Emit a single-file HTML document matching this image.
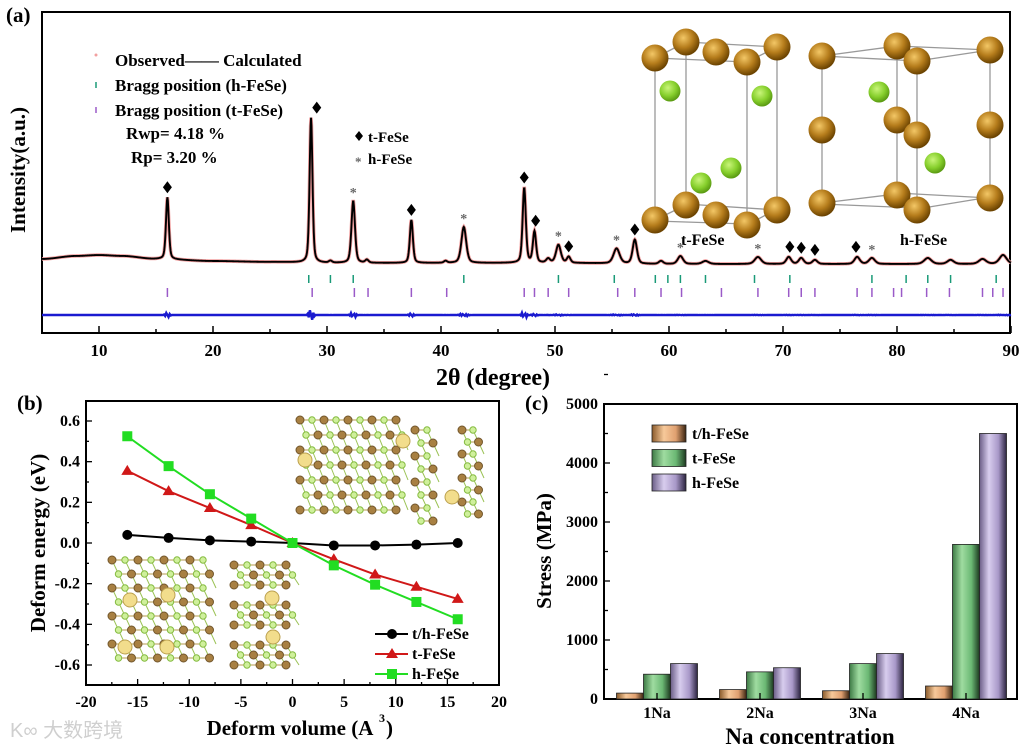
<!DOCTYPE html>
<html><head><meta charset="utf-8"><style>
html,body{margin:0;padding:0;background:#fff;}
svg{display:block;font-family:"Liberation Serif",serif;font-weight:bold;}
</style></head><body>
<svg id="fig" width="1024" height="748" viewBox="0 0 1024 748" xmlns="http://www.w3.org/2000/svg">
<defs>
<radialGradient id="fe" cx="40%" cy="35%" r="65%"><stop offset="0" stop-color="#f3c766"/><stop offset="0.55" stop-color="#b67d1c"/><stop offset="1" stop-color="#6a4200"/></radialGradient>
<radialGradient id="se" cx="40%" cy="35%" r="65%"><stop offset="0" stop-color="#c9f57a"/><stop offset="0.6" stop-color="#86cf2c"/><stop offset="1" stop-color="#5a9a12"/></radialGradient>
<linearGradient id="gO" x1="0" x2="1"><stop offset="0" stop-color="#8a5a2a"/><stop offset="0.35" stop-color="#f7c99a"/><stop offset="0.7" stop-color="#e0a070"/><stop offset="1" stop-color="#3a2410"/></linearGradient>
<linearGradient id="gG" x1="0" x2="1"><stop offset="0" stop-color="#3d7a45"/><stop offset="0.35" stop-color="#9fdca0"/><stop offset="0.7" stop-color="#6bb874"/><stop offset="1" stop-color="#1d3a20"/></linearGradient>
<linearGradient id="gP" x1="0" x2="1"><stop offset="0" stop-color="#6a5d86"/><stop offset="0.35" stop-color="#d8cdee"/><stop offset="0.7" stop-color="#a898c8"/><stop offset="1" stop-color="#2c2440"/></linearGradient>
</defs>
<g id="pa"></g>
<g id="pb"></g>
<g id="pc"></g>
<text x="10" y="737" font-family="'Liberation Sans','Noto Sans CJK SC',sans-serif" font-size="20" fill="#cfcfcf" font-weight="normal">K∞ 大数跨境</text>
</svg>
<script>
// ---------- Panel (a) data ----------
const peakPos = [16.0,28.6,30.3,32.3,33.5,37.4,40.4,42.0,47.3,48.2,49.4,50.3,51.2,55.4,57.0,59.3,61.0,63.2,67.8,70.5,71.6,72.8,76.5,77.8,82.7,84.7,87.5,89.3];
const peakInt = [413,967,13,413,20,287,13,240,500,207,27,120,40,100,160,20,53,20,47,47,40,27,47,40,40,27,33,60];
const peakWid = [0.18,0.18,0.2,0.22,0.2,0.19,0.2,0.3,0.2,0.2,0.24,0.3,0.22,0.38,0.27,0.27,0.33,0.4,0.4,0.3,0.3,0.3,0.33,0.37,0.45,0.4,0.45,0.45];
const bgX = [5,8,10,12,15,20,25,30,40,50,60,70,80,90];
const bgI = [107,127,133,127,107,93,87,80,80,80,73,73,73,73];
const hBragg = [28.4,30.3,32.3,42.0,50.3,55.2,58.8,59.9,61.0,63.2,67.5,70.6,77.8,80.8,82.7,84.7,88.7];
const tBragg = [16.0,28.7,32.4,33.6,37.4,40.5,47.3,48.2,49.4,51.2,55.5,57.0,59.3,61.1,64.6,67.8,70.5,71.6,72.8,76.5,77.8,79.7,80.4,82.6,84.6,87.5,88.4,89.3];
const tMark = [16.0,29.1,37.4,47.3,48.3,51.2,57.0,70.6,71.6,72.8,76.4];
const hMark = [32.3,42.0,50.3,55.4,61.0,67.8,77.8];
const xTicksA = [10,20,30,40,50,60,70,80,90];

// ---------- Panel (b) data ----------
const volX = [-16,-12,-8,-4,0,4,8,12,16];
const eTH = [0.04,0.025,0.013,0.007,0,-0.012,-0.012,-0.008,0.0];
const eT = [0.355,0.255,0.172,0.088,0,-0.08,-0.155,-0.215,-0.275];
const eH = [0.525,0.378,0.24,0.12,0,-0.11,-0.205,-0.29,-0.375];
const xTicksB = [-20,-15,-10,-5,0,5,10,15,20];
const yTicksB = [0.6,0.4,0.2,0.0,-0.2,-0.4,-0.6];
const yTickLabelsB = ["0.6","0.4","0.2","0.0","-0.2","-0.4","-0.6"];

// ---------- Panel (c) data ----------
const naCats = ["1Na","2Na","3Na","4Na"];
const sTH = [100,160,140,220];
const sT = [420,460,600,2620];
const sH = [600,530,770,4500];
const yTicksC = [0,1000,2000,3000,4000,5000];

const NS = "http://www.w3.org/2000/svg";
function mk(parent, tag, attrs, text){
  const e = document.createElementNS(NS, tag);
  for (const k in attrs) e.setAttribute(k, attrs[k]);
  if (text !== undefined) e.textContent = text;
  parent.appendChild(e);
  return e;
}

// ================= Panel A =================
(function(){
  const g = document.getElementById('pa');
  const X = v => 42 + (v - 5) * 11.4;
  const Y = I => 275 - I * 0.15;
  const bg = x => { for (let i=0;i<bgX.length-1;i++){ if (x<=bgX[i+1]) { const t=(x-bgX[i])/(bgX[i+1]-bgX[i]); const s=t*t*(3-2*t); return bgI[i]+(bgI[i+1]-bgI[i])*s; } } return bgI[bgI.length-1]; };
  const prof = x => { let s = bg(x); for (let i=0;i<peakPos.length;i++){ const d=(x-peakPos[i])/peakWid[i]; s += peakInt[i]*(0.6*Math.exp(-d*d)+0.4/(1+d*d*1.5)); } return s; };
  const nearTop = v => { let best=0, bd=1e9; peakPos.forEach((p,i)=>{ if (Math.abs(p-v)<bd){bd=Math.abs(p-v);best=i;} }); return bd<0.8 ? prof(peakPos[best]) : prof(v); };
  const fr = mk(g,'rect',{x:42,y:12,width:968,height:321,fill:'none',stroke:'#000','stroke-width':2});
   
  const cr = mk(g,'g',{});
   
  const L = (a,b,c,d)=>mk(cr,'line',{x1:a,y1:b,x2:c,y2:d,stroke:'#999','stroke-width':1.3});
  [[655,58,686,42],[686,42,777,47],[777,47,747,62],[747,62,655,58]].forEach(p=>{L(p[0],p[1],p[2],p[3]);L(p[0],p[1]+162,p[2],p[3]+163);});
  [[655,58],[686,42],[777,47],[747,62]].forEach(p=>L(p[0],p[1],p[0],p[1]+162));
  [[822,56,897,46],[897,46,990,50],[990,50,917,61],[917,61,822,56]].forEach(p=>{L(p[0],p[1],p[2],p[3]);L(p[0],p[1]+147,p[2],p[3]+148);});
  [[822,56],[897,46],[990,50],[917,61]].forEach(p=>L(p[0],p[1],p[0],p[1]+148));
  const fe=[[686,42],[777,47],[655,58],[716,52],[747,62],[686,205],[777,210],[655,220],[716,215],[747,225],
            [897,46],[990,50],[822,56],[917,61],[897,120],[990,125],[822,130],[917,135],[897,195],[990,198],[822,203],[917,210]];
  fe.forEach(p=>mk(cr,'circle',{cx:p[0],cy:p[1],r:13.5,fill:'url(#fe)'}));
  [[670,91],[762,96],[731,168],[701,183],[879,92],[935,163]].forEach(p=>mk(cr,'circle',{cx:p[0],cy:p[1],r:10.5,fill:'url(#se)'}));
  mk(cr,'text',{x:681,y:245,'font-size':16},'t-FeSe');
  mk(cr,'text',{x:900,y:245,'font-size':16},'h-FeSe');
  let pts=[]; for (let x=5;x<=90.001;x+=0.04) pts.push(X(x).toFixed(2)+','+Y(prof(x)).toFixed(2));
  const obs = mk(g,'polyline',{points:pts.join(' '),fill:'none',stroke:'#f2a0a0','stroke-width':3.5});
   
  const calc = mk(g,'polyline',{points:pts.join(' '),fill:'none',stroke:'#000','stroke-width':1.9});
   
  let dp=[]; for (let x=5;x<=90.001;x+=0.1){ let s=0; for (let i=0;i<peakPos.length;i++){ const d=(x-peakPos[i])/peakWid[i]; s+=peakInt[i]*0.012*d*Math.exp(-d*d);} dp.push(X(x).toFixed(2)+','+(315+s*(Math.round(x*10)%2?1:-0.6)).toFixed(2)); }
  const df = mk(g,'polyline',{points:dp.join(' '),fill:'none',stroke:'#1a1ad0','stroke-width':2.4});
   
  hBragg.forEach(v=>{ const t=mk(g,'line',{x1:X(v),x2:X(v),y1:275,y2:283,stroke:'#1a9a78','stroke-width':1.5});
      });
  tBragg.forEach(v=>{ const t=mk(g,'line',{x1:X(v),x2:X(v),y1:288,y2:297,stroke:'#9a5ac8','stroke-width':1.5});
      });
  tMark.forEach(v=>{ const y=Y(nearTop(v))-10; const m=mk(g,'path',{d:`M${X(v)},${y-6} l4.5,6 l-4.5,6 l-4.5,-6z`,fill:'#000'});
      });
  hMark.forEach(v=>{ const y=Y(nearTop(v))-4; const m=mk(g,'text',{x:X(v),y:y,'text-anchor':'middle','font-size':14,fill:'#666'},'*');
      });
  for (let v=5; v<=90; v+=5){ const major = v%10===0; mk(g,'line',{x1:X(v),x2:X(v),y1:333,y2:major?326:329,stroke:'#000','stroke-width':1.5}); }
  xTicksA.forEach(v=>{ const t=mk(g,'text',{x:X(v),y:356,'text-anchor':'middle','font-size':17},String(v));
      });
  const xt=mk(g,'text',{x:493,y:385,'text-anchor':'middle','font-size':24},'2θ (degree)');
   
  const yt=mk(g,'text',{x:0,y:0,'text-anchor':'middle','font-size':21,transform:'translate(25,170) rotate(-90)'},'Intensity(a.u.)');
   
  const lb=mk(g,'text',{x:6,y:22,'font-size':21},'(a)');
   
  const lg=mk(g,'g',{'font-size':17});
   
  mk(lg,'circle',{cx:96,cy:55,r:1.5,fill:'#f2a0a0'});
  mk(lg,'text',{x:115,y:66},'Observed—— Calculated');
  mk(lg,'line',{x1:96,x2:96,y1:82,y2:88,stroke:'#1a9a78','stroke-width':1.5});
  mk(lg,'text',{x:115,y:91},'Bragg position (h-FeSe)');
  mk(lg,'line',{x1:96,x2:96,y1:107,y2:113,stroke:'#9a5ac8','stroke-width':1.5});
  mk(lg,'text',{x:115,y:116},'Bragg position (t-FeSe)');
  mk(lg,'text',{x:126,y:139},'Rwp= 4.18 %');
  mk(lg,'text',{x:131,y:163},'Rp= 3.20 %');
  mk(lg,'path',{d:'M359,131 l4,5 l-4,5 l-4,-5z',fill:'#000'});
  mk(lg,'text',{x:368,y:142,'font-size':15},'t-FeSe');
  mk(lg,'text',{x:355,y:166,'font-size':13,fill:'#666'},'*');
  mk(lg,'text',{x:368,y:164,'font-size':15},'h-FeSe');
})();

// ================= Panel B =================
(function(){
  const g = document.getElementById('pb');
  const X = v => 86 + (v + 20) * (413/40);
  const Y = v => 543 - v * (122/0.6);
  const dec = mk(g,'g',{opacity:0.85});
   
  function cluster(x0,y0,cols,rows,dx,dy){
    for (let r=0;r<rows;r++) for (let c=0;c<cols;c++){
      const x=x0+c*dx+(r%2)*dx/2, y=y0+r*dy;
      if (c<cols-1) mk(dec,'line',{x1:x,y1:y,x2:x+dx,y2:y,stroke:'#a88a30','stroke-width':1});
      if (r<rows-1) mk(dec,'line',{x1:x,y1:y,x2:x+dx/2,y2:y+dy,stroke:'#8ab838','stroke-width':1});
      mk(dec,'circle',{cx:x,cy:y,r:((r+c)%2?3.2:4),fill:((r+c)%2?'#c7ee8a':'#9a6a22'),stroke:((r+c)%2?'#70b020':'#5a3a08'),'stroke-width':1});
    }
  }
  cluster(300,420,9,7,12,15);
  cluster(415,430,2,8,12,13);
  cluster(462,430,2,8,11,12);
  cluster(112,560,8,8,13,14);
  cluster(234,565,5,3,13,10);
  cluster(234,605,5,3,13,10);
  cluster(234,645,5,3,13,10);
  [[305,460],[403,441],[452,497],[130,600],[168,595],[125,647],[167,647],[272,598],[273,637]].forEach(p=>mk(dec,'circle',{cx:p[0],cy:p[1],r:7,fill:'#f0d878',stroke:'#b09030'}));
  const fr=mk(g,'rect',{x:86,y:401,width:413,height:284,fill:'none',stroke:'#000','stroke-width':2});
   
  for (let v=-20; v<=20; v+=2.5){ const major=v%5===0; mk(g,'line',{x1:X(v),x2:X(v),y1:685,y2:major?679:682,stroke:'#000','stroke-width':1.3}); }
  for (let v=-0.7; v<=0.7001; v+=0.1){ const major=Math.abs(Math.round(v*10))%2===0; mk(g,'line',{x1:86,x2:major?92:89,y1:Y(v),y2:Y(v),stroke:'#000','stroke-width':1.3}); }
  xTicksB.forEach(v=>{ const t=mk(g,'text',{x:X(v),y:707,'text-anchor':'middle','font-size':16},String(v));
      });
  yTicksB.forEach((v,i)=>{ const t=mk(g,'text',{x:80,y:Y(v)+5,'text-anchor':'end','font-size':16},yTickLabelsB[i]);
      });
  const xt=mk(g,'text',{x:290,y:735,'text-anchor':'middle','font-size':21},'Deform volume (A');
   
  mk(g,'text',{x:379,y:722,'font-size':12},'3');
  mk(g,'text',{x:386,y:735,'font-size':21},')');
  const yt=mk(g,'text',{x:0,y:0,'text-anchor':'middle','font-size':21,transform:'translate(45,543) rotate(-90)'},'Deform energy (eV)');
   
  const lb=mk(g,'text',{x:17,y:410,'font-size':21},'(b)');
   
  const series=[[eTH,'#000','circle','line-th-fese'],[eT,'#d01818','tri','line-t-fese'],[eH,'#22dd22','sq','line-h-fese']];
  function marker(par,shape,x,y,color){
    if (shape==='circle') return mk(par,'circle',{cx:x,cy:y,r:5,fill:color});
    if (shape==='tri') return mk(par,'path',{d:`M${x},${y-6} l6,10 l-12,0z`,fill:color});
    return mk(par,'rect',{x:x-5,y:y-5,width:10,height:10,fill:color});
  }
  series.forEach(s=>{
    const sg=mk(g,'g',{});
     
    mk(sg,'polyline',{points:volX.map((v,i)=>X(v)+','+Y(s[0][i])).join(' '),fill:'none',stroke:s[1],'stroke-width':2});
    volX.forEach((v,i)=>{ const m=marker(sg,s[2],X(v),Y(s[0][i]),s[1]);
        });
  });
  const lg=mk(g,'g',{'font-size':16});
   
  [['t/h-FeSe','#000','circle'],['t-FeSe','#d01818','tri'],['h-FeSe','#22dd22','sq']].forEach((e,i)=>{
    const y=634+i*20;
    mk(lg,'line',{x1:375,x2:408,y1:y,y2:y,stroke:e[1],'stroke-width':2});
    marker(lg,e[2],392,y,e[1]);
    mk(lg,'text',{x:412,y:y+5},e[0]);
  });
})();

// ================= Panel C =================
(function(){
  const g = document.getElementById('pc');
  const Y = v => 699 - v * (295/5000);
  const gx = i => 657 + i * 103;
  const bw = 27;
  const fr=mk(g,'rect',{x:604,y:404,width:413,height:295,fill:'none',stroke:'#000','stroke-width':2});
   
  yTicksC.forEach(v=>{ mk(g,'line',{x1:604,x2:610,y1:Y(v),y2:Y(v),stroke:'#000','stroke-width':1.3});
    mk(g,'line',{x1:604,x2:608,y1:Y(v+500),y2:Y(v+500),stroke:'#000','stroke-width':1.3});
    const t=mk(g,'text',{x:598,y:Y(v)+5,'text-anchor':'end','font-size':16},String(v));
      });
  const sets=[[sTH,'url(#gO)','bar-th-fese',-1],[sT,'url(#gG)','bar-t-fese',0],[sH,'url(#gP)','bar-h-fese',1]];
  naCats.forEach((c,i)=>{
    sets.forEach(s=>{ const x=gx(i)+s[3]*bw-bw/2; const b=mk(g,'rect',{x:x,y:Y(s[0][i]),width:bw,height:699-Y(s[0][i]),fill:s[1],stroke:'#222','stroke-width':0.8});
        });
    const t=mk(g,'text',{x:gx(i),y:718,'text-anchor':'middle','font-size':16},c);
     
    mk(g,'line',{x1:gx(i),x2:gx(i),y1:699,y2:693,stroke:'#000','stroke-width':1.3});
  });
  const xt=mk(g,'text',{x:810,y:744,'text-anchor':'middle','font-size':23},'Na concentration');
   
  const yt=mk(g,'text',{x:0,y:0,'text-anchor':'middle','font-size':21,transform:'translate(551,551) rotate(-90)'},'Stress (MPa)');
   
  const lb=mk(g,'text',{x:525,y:410,'font-size':21},'(c)');
   
  const lg=mk(g,'g',{'font-size':16});
   
  [['t/h-FeSe','url(#gO)'],['t-FeSe','url(#gG)'],['h-FeSe','url(#gP)']].forEach((e,i)=>{
    const y=425+i*24.5;
    mk(lg,'rect',{x:652,y:y,width:34,height:17,fill:e[1],stroke:'#222','stroke-width':0.8});
    mk(lg,'text',{x:692,y:y+14},e[0]);
  });
})();
</script>
</body></html>
